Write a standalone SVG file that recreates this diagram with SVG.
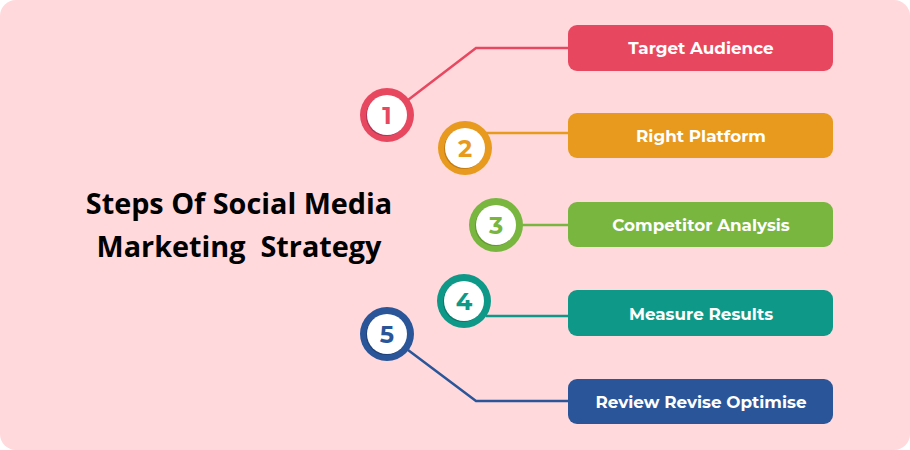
<svg xmlns="http://www.w3.org/2000/svg" width="910" height="450" viewBox="0 0 910 450">
<style>
.title{font-family:"Open Sans","Liberation Sans",sans-serif;font-weight:700;font-size:28.8px;fill:#000;text-anchor:middle}
.lbl{font-family:"Montserrat","Open Sans","Liberation Sans",sans-serif;font-weight:700;font-size:16.8px;fill:#fff;text-anchor:middle}
.num{font-family:"Montserrat","Open Sans","Liberation Sans",sans-serif;font-weight:700;font-size:24px;text-anchor:middle}
.conn{fill:none;stroke-width:2.5}
.inner{fill:#fff}
</style>
<rect x="0" y="0" width="910" height="450" fill="#fff"/>
<rect x="0" y="0" width="910" height="450" rx="16" fill="#FFD9DC"/>
<g id="title">
<text class="title" x="239" y="214">Steps Of Social Media</text>
<text class="title" x="239" y="257" xml:space="preserve">Marketing  Strategy</text>
</g>
<g id="connectors">
<polyline class="conn" stroke="#E8485F" points="408,100 476,48 568,48"/>
<polyline class="conn" stroke="#E79A1E" points="486,133 568,133"/>
<polyline class="conn" stroke="#79B63F" points="522,225 568,225"/>
<polyline class="conn" stroke="#0E9887" points="486,316 568,316"/>
<polyline class="conn" stroke="#2A5598" points="408,350 476,401 568,401"/>
</g>
<g id="step1">
<circle cx="387" cy="115" r="27" fill="#E8485F"/>
<circle cx="386" cy="116" r="20" fill="#8a2a50" opacity="0.6"/>
<circle cx="387" cy="115" r="20" class="inner"/>
<text class="num" x="387" y="124" fill="#E8485F">1</text>
<rect x="568" y="25" width="265" height="46" rx="9" fill="#E8485F"/>
<text class="lbl" x="701" y="54">Target Audience</text>
</g>
<g id="step2">
<circle cx="465" cy="148" r="27" fill="#E79A1E"/>
<circle cx="464" cy="149" r="20" fill="#a06010" opacity="0.5"/>
<circle cx="465" cy="148" r="20" class="inner"/>
<text class="num" x="465" y="157" fill="#E79A1E">2</text>
<rect x="568" y="113" width="265" height="45" rx="9" fill="#E79A1E"/>
<text class="lbl" x="701" y="142">Right Platform</text>
</g>
<g id="step3">
<circle cx="496" cy="225" r="27" fill="#79B63F"/>
<circle cx="495" cy="226" r="20" fill="#4d7a25" opacity="0.5"/>
<circle cx="496" cy="225" r="20" class="inner"/>
<text class="num" x="496" y="234" fill="#79B63F">3</text>
<rect x="568" y="202" width="265" height="45" rx="9" fill="#79B63F"/>
<text class="lbl" x="701" y="231">Competitor Analysis</text>
</g>
<g id="step4">
<circle cx="464" cy="301" r="27" fill="#0E9887"/>
<circle cx="463" cy="302" r="20" fill="#08594f" opacity="0.5"/>
<circle cx="464" cy="301" r="20" class="inner"/>
<text class="num" x="464" y="310" fill="#0E9887">4</text>
<rect x="568" y="290" width="265" height="46" rx="9" fill="#0E9887"/>
<text class="lbl" x="701" y="320">Measure Results</text>
</g>
<g id="step5">
<circle cx="387" cy="334" r="27" fill="#2A5598"/>
<circle cx="386" cy="335" r="20" fill="#17305a" opacity="0.5"/>
<circle cx="387" cy="334" r="20" class="inner"/>
<text class="num" x="387" y="343" fill="#2A5598">5</text>
<rect x="568" y="379" width="265" height="45" rx="9" fill="#2A5598"/>
<text class="lbl" x="701" y="408">Review Revise Optimise</text>
</g>
</svg>
